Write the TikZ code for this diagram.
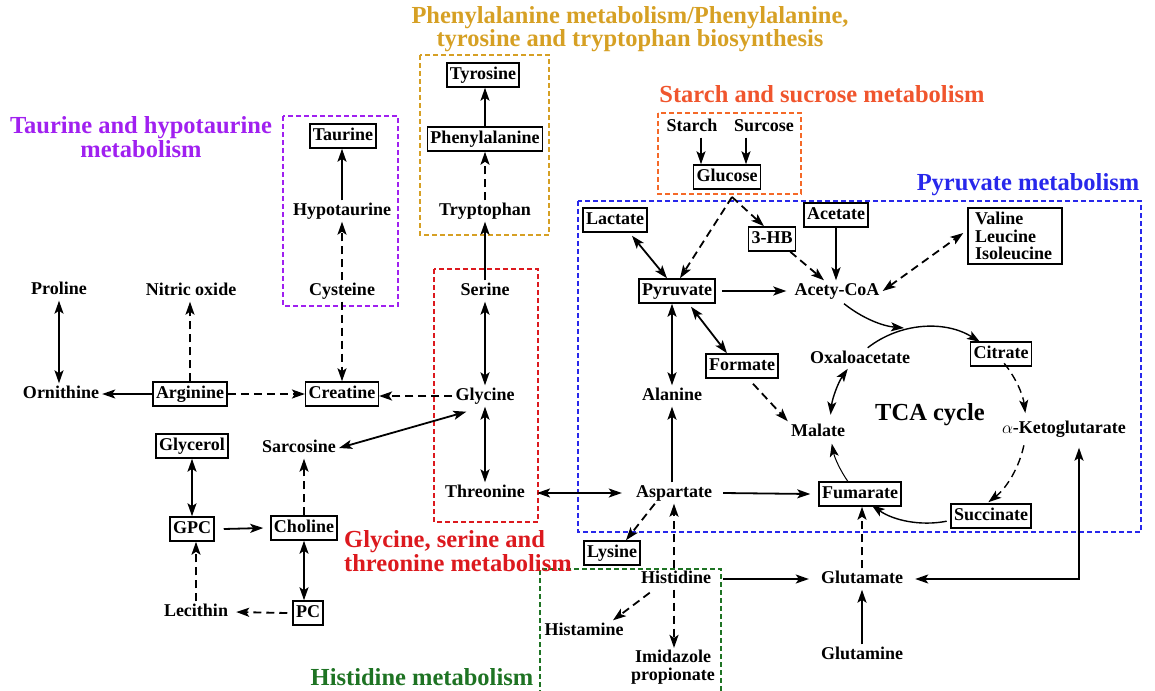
\documentclass[tikz,border=0pt]{standalone}
\usepackage{fontspec}
\setmainfont{Liberation Serif}
\usetikzlibrary{arrows.meta,calc}
\definecolor{goldC}{RGB}{214,160,36}
\definecolor{purpleC}{RGB}{160,32,240}
\definecolor{orangeC}{RGB}{240,85,45}
\definecolor{orangeF}{RGB}{245,105,40}
\definecolor{blueC}{RGB}{40,40,235}
\definecolor{redC}{RGB}{220,25,30}
\definecolor{greenC}{RGB}{30,115,35}
\begin{document}
\begin{tikzpicture}[x=1pt,y=1pt,
 nf/.style={font=\fontsize{18}{17.5}\selectfont\bfseries},
 lbl/.style={nf, inner xsep=3pt, inner ysep=2pt, text height=13pt, text depth=4pt},
 bx/.style={lbl, draw, line width=1.5pt, inner ysep=3.5pt},
 ml/.style={nf, align=center, inner sep=2pt},
 ttl/.style={font=\fontsize{24.5}{18.5}\selectfont\bfseries, align=center, inner sep=0pt},
 tip/.style={},
 arr/.style={line width=1.8pt, -{Stealth[length=13pt,width=9pt,inset=3pt]}},
 darr/.style={line width=1.8pt, {Stealth[length=13pt,width=9pt,inset=3pt]}-{Stealth[length=13pt,width=9pt,inset=3pt]}},
 dsh/.style={dash pattern=on 8pt off 5pt},
 frm/.style={line width=1.2pt, dash pattern=on 5pt off 3pt},
]
\useasboundingbox (0,0) rectangle (1155,-690);

% frames
\draw[frm, purpleC] (283,-116) rectangle (398,-306);
\draw[frm, goldC] (420,-55) rectangle (549,-235);
\draw[frm, redC] (434,-269) rectangle (538,-522);
\draw[frm, orangeF] (658,-113) rectangle (801,-194);
\draw[frm, blueC] (578,-201) rectangle (1141,-532);
\draw[frm, greenC] (540,-695) |- (721,-569) -- (721,-695);

% titles
\node[ttl, goldC] (tGold) at (630,-29) {Phenylalanine metabolism/Phenylalanine,\\tyrosine and tryptophan biosynthesis};
\node[ttl, purpleC] (tPur) at (141,-137) {Taurine and hypotaurine\\metabolism};
\node[ttl, orangeC] (tOra) at (822,-94) {Starch and sucrose metabolism};
\node[ttl, blueC] (tBlu) at (1028,-185) {Pyruvate metabolism};
\node[ttl, redC, align=left, anchor=west] (tRed) at (344,-551) {Glycine, serine and\\threonine metabolism};
\node[ttl, greenC] (tGre) at (422,-677) {Histidine metabolism};

% left nodes
\node[bx] (tyr) at (483,-75) {Tyrosine};
\node[bx] (phe) at (485,-139) {Phenylalanine};
\node[lbl] (trp) at (485,-211) {Tryptophan};
\node[bx] (tau) at (343,-136) {Taurine};
\node[lbl] (hyp) at (342,-211) {Hypotaurine};
\node[lbl] (cys) at (342,-291) {Cysteine};
\node[lbl] (ser) at (485,-291) {Serine};
\node[lbl] (pro) at (59,-290) {Proline};
\node[lbl] (no) at (191,-291) {Nitric oxide};
\node[lbl] (orn) at (61,-394) {Ornithine};
\node[bx] (arg) at (190,-394) {Arginine};
\node[bx] (cre) at (342,-394) {Creatine};
\node[lbl] (gly) at (485,-396) {Glycine};
\node[bx] (glyc) at (192,-446) {Glycerol};
\node[lbl] (sar) at (299,-448) {Sarcosine};
\node[lbl] (thr) at (485,-493) {Threonine};
\node[bx] (gpc) at (192,-529) {GPC};
\node[bx] (cho) at (304,-528) {Choline};
\node[lbl] (lec) at (196,-612) {Lecithin};
\node[bx] (pc) at (308,-613) {PC};

% right nodes
\node[lbl] (sta) at (692,-127) {Starch};
\node[lbl] (sur) at (764,-127) {Surcose};
\node[bx] (glu) at (727,-177) {Glucose};
\node[bx] (lac) at (615,-220) {Lactate};
\node[bx] (hb) at (772,-239) {3-HB};
\node[bx] (ace) at (836,-215) {Acetate};
\node[nf, draw, line width=1.5pt, align=left, text width=80pt, inner xsep=7pt, inner ysep=4pt] (val) at (1015,-236) {Valine\\Leucine\\Isoleucine};
\node[bx] (pyr) at (677,-291) {Pyruvate};
\node[lbl] (aco) at (837,-291) {Acety-CoA};
\node[bx] (fmt) at (742,-366) {Formate};
\node[lbl] (oxa) at (860,-359) {Oxaloacetate};
\node[bx] (cit) at (1001,-354) {Citrate};
\node[lbl] (ala) at (672,-396) {Alanine};
\node[font=\fontsize{24.5}{24}\selectfont\bfseries] (tcaT) at (930,-415) {TCA cycle};
\node[lbl] (mal) at (818,-432) {Malate};
\node[lbl] (akg) at (1064,-429) {$\alpha$-Ketoglutarate};
\node[lbl] (asp) at (674,-493) {Aspartate};
\node[bx] (fum) at (860,-494) {Fumarate};
\node[bx] (suc) at (991,-516) {Succinate};
\node[bx] (lys) at (612,-553) {Lysine};
\node[lbl] (his) at (676,-579) {Histidine};
\node[lbl] (glt) at (862,-579) {Glutamate};
\node[lbl] (hia) at (584,-631) {Histamine};
\node[ml] (imi) at (673,-667) {Imidazole\\propionate};
\node[lbl] (gln) at (862,-655) {Glutamine};

% left connectors
\draw[darr] (pro.south) -- (pro.south |- orn.north);
\draw[arr,dsh] (arg.north) -- (arg.north |- no.south);
\draw[arr] (arg.west) -- (orn.east);
\draw[arr,dsh] (arg.east) -- (cre.west);
\draw[arr,dsh] (gly.west) -- (gly.west -| cre.east);
\draw[arr,dsh] (cys.south) -- (cys.south |- cre.north);
\draw[arr,dsh] (cys.north) -- (cys.north |- hyp.south);
\draw[arr] (hyp.north) -- (hyp.north |- tau.south);
\draw[arr,dsh] (trp.north) -- (trp.north |- phe.south);
\draw[arr] (phe.north) -- (phe.north |- tyr.south);
\draw[arr] (ser.north) -- (ser.north |- trp.south);
\draw[darr] (ser.south) -- (ser.south |- gly.north);
\draw[darr] (gly.south) -- (gly.south |- thr.north);
\draw[darr] (sar.east) -- ([xshift=14pt,yshift=-5pt]gly.south west);
\draw[darr] (glyc.south) -- (glyc.south |- gpc.north);
\draw[arr] ([xshift=9pt]gpc.east) -- ([xshift=-7pt]cho.west);
\draw[arr,dsh] (cho.north) -- (cho.north |- sar.south);
\draw[darr] (cho.south) -- (cho.south |- pc.north);
\draw[arr,dsh] ([xshift=-5pt]pc.west) -- ([xshift=5pt]lec.east);
\draw[arr,dsh] (lec.north) -- (lec.north |- gpc.south);
\draw[darr] ([xshift=9pt]thr.east) -- ([xshift=-11pt]asp.west);

% right connectors
\draw[arr] ([xshift=9pt]sta.south) -- ([xshift=9pt]sta.south |- glu.north);
\draw[arr] ([xshift=-18pt]sur.south) -- ([xshift=-18pt]sur.south |- glu.north);
\coordinate (ob) at (732,-197);
\draw[arr,dsh] (ob) -- ([xshift=3pt]pyr.north);
\draw[arr,dsh] (ob) -- ([xshift=-8pt]hb.north);
\draw[darr] ([xshift=17pt,yshift=-3pt]lac.south) -- ([xshift=-10pt]pyr.north);
\draw[arr,dsh] ([xshift=-6pt]hb.south east) -- ([xshift=-13pt]aco.north);
\draw[arr] (ace.south) -- (ace.south |- aco.north);
\draw[darr,dsh] (aco.east) -- ([xshift=-4pt,yshift=3pt]val.west);
\draw[arr] ([xshift=6pt]pyr.east) -- ([xshift=-5pt]aco.west);
\draw[darr] (ala.north |- pyr.south) -- (ala.north);
\draw[darr] ([xshift=14pt,yshift=-3pt]pyr.south) -- ([xshift=-15pt]fmt.north);
\draw[arr,dsh] ([xshift=11pt,yshift=-5pt]fmt.south) -- (mal.north west);
\draw[arr] (ala.south |- asp.north) -- (ala.south);
\draw[arr] ([xshift=8pt]asp.east) -- ([xshift=-8pt]fum.west);
\draw[arr,dsh] ([xshift=22pt]asp.south west) -- ([xshift=14pt]lys.north);
\draw[arr,dsh] (his.north -| asp.south) -- (asp.south);
\draw[arr,dsh] (his.south -| asp.south) -- (imi.north -| asp.south);
\draw[arr,dsh] ([xshift=12pt,yshift=-3pt]his.south west) -- ([xshift=29pt]hia.north);
\draw[arr] ([xshift=9pt]his.east) -- ([xshift=-9pt]glt.west);
\draw[arr] (gln.north) -- (gln.north |- glt.south);
\draw[arr,dsh] (glt.north) -- (glt.north |- fum.south);
\draw[darr] ([xshift=15pt,yshift=-8pt]akg.south) |- ([xshift=9pt]glt.east);

% TCA cycle
\coordinate (tca) at (928,-425);
\draw[arr,line width=1.4pt] ($(tca)+(128:98)$) arc[start angle=128,end angle=58,radius=98];
\draw[arr,dsh,line width=1.4pt] ($(tca)+(39:98)$) arc[start angle=39,end angle=7,radius=98];
\draw[arr,dsh,line width=1.4pt] ($(tca)+(-12:98)$) arc[start angle=-12,end angle=-52,radius=98];
\draw[arr,line width=1.4pt] ($(tca)+(-79:98)$) arc[start angle=-79,end angle=-125,radius=98];
\draw[arr,line width=1pt] ($(tca)+(-145:98)$) arc[start angle=-145,end angle=-169,radius=98];
\draw[darr,line width=1.4pt] ($(tca)+(174:98)$) arc[start angle=174,end angle=145,radius=98];
\draw[arr,line width=1.4pt] ([xshift=7pt,yshift=-2pt]aco.south) .. controls (862,-318) and (882,-326) .. (904,-328);
\end{tikzpicture}
\end{document}
